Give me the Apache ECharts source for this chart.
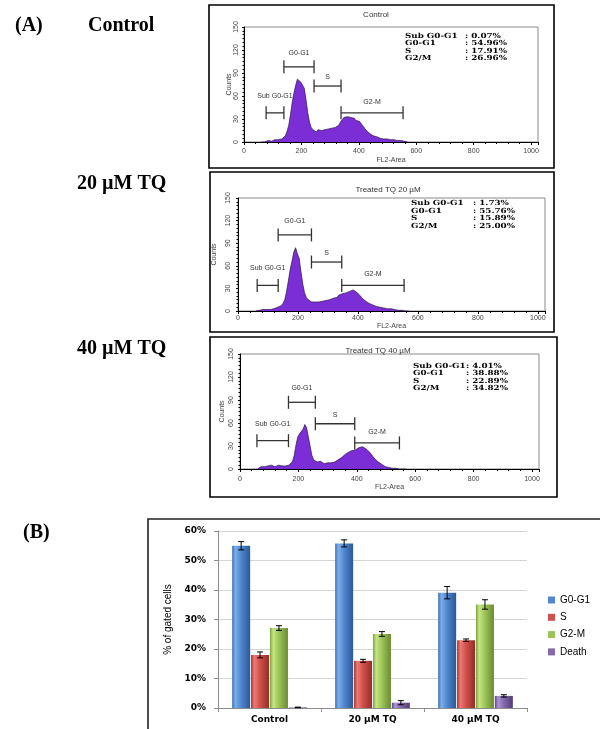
<!DOCTYPE html>
<html><head><meta charset="utf-8">
<script src="https://cdn.jsdelivr.net/npm/echarts@6.0.0/dist/echarts.min.js"></script>
<style>html,body{margin:0;padding:0;background:#fff}#c{width:600px;height:729px}</style>
</head><body><div id="c"></div>
<script>
// ---------------- DATA ----------------
const binStart = 60, binWidth = 6;
const countsControl = [0,0,0,1,2,2,1,2,3,2,3,2,4,3,8,14,22,36,52,64,74,82,80,78,76,70,55,38,26,19,
  16,15,13,16,14,15,13,16,14,17,15,18,16,19,18,22,26,29,32,30,33,31,32,30,31,28,29,27,25,21,
  18,15,13,11,10,8,7,7,6,5,5,4,5,4,4,3,4,3,3,2,3,2,2,1,0,0];
const countsTQ20 = [0,0,1,2,2,3,2,3,2,4,3,3,5,4,7,10,15,26,40,55,66,78,84,76,70,52,36,24,18,15,
  13,12,11,12,10,12,11,13,12,14,13,15,14,17,19,18,21,20,23,22,24,23,26,25,28,27,25,23,20,17,
  15,13,11,10,9,8,7,6,6,5,5,4,4,3,4,3,2,2,2,1,2,1,1,0,0,0];
const countsTQ40 = [0,2,3,4,3,5,4,3,5,4,3,4,5,3,4,5,4,6,5,7,10,18,32,42,46,48,52,58,54,42,
  30,18,12,10,9,8,10,8,7,9,8,9,8,10,9,11,12,14,15,17,19,20,22,23,24,26,25,27,28,27,
  29,28,26,25,22,19,16,13,11,9,7,6,4,3,3,2,2,1,1,1,0,0,0,0,0,0];

const histTitles = ['Control', 'Treated TQ 20 µM', 'Treated TQ 40 µM'];
const gateNames = ['Sub G0-G1', 'G0-G1', 'S', 'G2-M'];
// [start channel, end channel, count level]
const gatesControl = [[77,139,38],[139,244,98],[244,338,73],[338,554,38]];
const gatesTQ20    = [[64,134,34],[134,245,101],[245,346,65],[346,554,34]];
const gatesTQ40    = [[58,166,37],[166,258,87],[258,393,59],[393,546,34]];

const statNames = ['Sub G0-G1', 'G0-G1', 'S', 'G2/M'];
const statsControl = ['0.07%', '54.96%', '17.91%', '26.96%'];
const statsTQ20    = ['1.73%', '55.76%', '15.89%', '25.00%'];
const statsTQ40    = ['4.01%', '38.88%', '22.89%', '34.82%'];

const panelLabels = ['(A)', 'Control', '20 µM TQ', '40 µM TQ', '(B)'];

const categories = ['Control', '20 µM TQ', '40 µM TQ'];
const seriesNames = ['G0-G1', 'S', 'G2-M', 'Death'];
const g0g1  = [55.0, 55.8, 39.1];
const sPh   = [18.0, 16.0, 23.0];
const g2m   = [27.1, 25.1, 35.1];
const death = [0.2, 1.8, 4.1];
const errG0g1  = [1.4, 1.2, 2.1];
const errS     = [1.0, 0.5, 0.4];
const errG2m   = [0.8, 0.8, 1.6];
const errDeath = [0.1, 0.7, 0.4];

// ---------------- LAYOUT / STYLE ----------------
const histCounts = [countsControl, countsTQ20, countsTQ40];
const histGates = [gatesControl, gatesTQ20, gatesTQ40];
const histStats = [statsControl, statsTQ20, statsTQ40];
const histLayout = [
  {grid:{left:244,top:27,width:294,height:115}, frame:[209,5,345,163], title:[376,15], statX:[405,465], statY:36, xm:6, xg:15, ym:4, yg:11},
  {grid:{left:238,top:198,width:307,height:113}, frame:[210,172,344,160], title:[388,190], statX:[411,473], statY:203.5, xm:4, xg:12, ym:6, yg:15},
  {grid:{left:240,top:354,width:299,height:115}, frame:[210,337,347,160], title:[378,351], statX:[413,466], statY:366, xm:7, xg:15, ym:5, yg:14}
];
const gateLabelOffset = [17, 14, 9, 11];
const barLayout = {grid:{left:218,top:531,width:309,height:177}, frame:[148,519,460,220]};
const barWidth = 18, barGapPct = 0.05;
const barStep = barWidth * (1 + barGapPct);

function grad(c0, c1, c2, c3) {
  return new echarts.graphic.LinearGradient(0, 0, 1, 0, [
    {offset:0, color:c0},{offset:0.18, color:c1},{offset:0.5, color:c2},{offset:1, color:c3}]);
}
const barColors = [
  grad('#3f70b3', '#7aaeea', '#4f86cf', '#2b5895'),
  grad('#a9332f', '#ee7a75', '#d0504b', '#962c29'),
  grad('#7ea13e', '#c6e684', '#9cc458', '#6b8a31'),
  grad('#5e4585', '#ad93d8', '#8468a8', '#523c76')
];
const legendColors = ['#4f86cf', '#d0504b', '#9cc458', '#8468a8'];

const grids = [], xAxes = [], yAxes = [], series = [], graphics = [];

histLayout.forEach((L, i) => {
  grids.push(Object.assign({show:true, borderColor:'#8a8a8a', borderWidth:1, backgroundColor:'transparent'}, L.grid));
  xAxes.push({
    gridIndex:i, type:'value', min:0, max:1024, interval:200,
    axisLine:{lineStyle:{color:'#000', width:1}},
    axisTick:{length:3, lineStyle:{color:'#000'}},
    minorTick:{show:true, splitNumber:5, length:2, lineStyle:{color:'#000'}},
    axisLabel:{fontSize:7, color:'#444', fontFamily:'Liberation Sans', margin:L.xm, showMaxLabel:false,
      formatter: v => String(v)},
    splitLine:{show:false}, minorSplitLine:{show:false},
    name:'FL2-Area', nameLocation:'middle', nameGap:L.xg,
    nameTextStyle:{fontSize:7, color:'#444', fontFamily:'Liberation Sans'}
  });
  yAxes.push({
    gridIndex:i, type:'value', min:0, max:150, interval:30,
    axisLine:{show:true, lineStyle:{color:'#000', width:1}},
    axisTick:{show:true, length:2, lineStyle:{color:'#000'}},
    minorTick:{show:true, splitNumber:6, length:1.5, lineStyle:{color:'#000'}},
    axisLabel:{rotate:90, fontSize:7, color:'#444', fontFamily:'Liberation Sans', margin:L.ym},
    splitLine:{show:false},
    name:'Counts', nameLocation:'middle', nameGap:L.yg, nameRotate:90,
    nameTextStyle:{fontSize:7, color:'#444', fontFamily:'Liberation Sans'}
  });
  series.push({
    type:'line', xAxisIndex:i, yAxisIndex:i, showSymbol:false, silent:true,
    data: histCounts[i].map((c, k) => [binStart + k * binWidth, c]),
    lineStyle:{color:'#2a1745', width:0.7},
    areaStyle:{color:'#7b2ed6', opacity:1}
  });
  series.push({
    type:'custom', xAxisIndex:i, yAxisIndex:i, silent:true, z:5,
    data: histGates[i],
    renderItem: function(params, api) {
      const a = api.coord([api.value(0), api.value(2)]);
      const b = api.coord([api.value(1), api.value(2)]);
      const st = {stroke:'#333', lineWidth:1.3};
      const di = params.dataIndex;
      return {type:'group', children:[
        {type:'line', shape:{x1:a[0], y1:a[1], x2:b[0], y2:b[1]}, style:st},
        {type:'line', shape:{x1:a[0], y1:a[1]-6.5, x2:a[0], y2:a[1]+6.5}, style:st},
        {type:'line', shape:{x1:b[0], y1:b[1]-6.5, x2:b[0], y2:b[1]+6.5}, style:st},
        {type:'text', x:(a[0]+b[0])/2, y:a[1]-gateLabelOffset[di],
          style:{text:gateNames[di], fill:'#333', font:'7px "Liberation Sans"', textAlign:'center', textVerticalAlign:'middle'}}
      ]};
    }
  });
  graphics.push({type:'rect', silent:true, shape:{x:L.frame[0], y:L.frame[1], width:L.frame[2], height:L.frame[3]},
    style:{fill:'none', stroke:'#000', lineWidth:1.6}});
  graphics.push({type:'text', silent:true, x:L.title[0], y:L.title[1],
    style:{text:histTitles[i], fill:'#333', font:'8px "Liberation Sans"', textAlign:'center', textVerticalAlign:'middle'}});
  statNames.forEach((n, r) => {
    const yy = L.statY + r * 7.4;
    graphics.push({type:'text', silent:true, x:L.statX[0], y:yy, scaleX:1.25,
      style:{text:n, fill:'#000', font:'bold 7px "DejaVu Serif"', textAlign:'left', textVerticalAlign:'middle'}});
    graphics.push({type:'text', silent:true, x:L.statX[1], y:yy, scaleX:1.25,
      style:{text:': ' + histStats[i][r], fill:'#000', font:'bold 7px "DejaVu Serif"', textAlign:'left', textVerticalAlign:'middle'}});
  });
});

// bar chart
grids.push(barLayout.grid);
xAxes.push({
  gridIndex:3, type:'category', data:categories,
  axisLine:{lineStyle:{color:'#8c8c8c'}},
  axisTick:{show:true, length:4, lineStyle:{color:'#8c8c8c'}},
  axisLabel:{fontSize:9, fontWeight:'bold', color:'#000', fontFamily:'DejaVu Sans', margin:7}
});
yAxes.push({
  gridIndex:3, type:'value', min:0, max:60, interval:10,
  axisLine:{show:true, lineStyle:{color:'#8c8c8c'}},
  axisTick:{show:true, length:4, lineStyle:{color:'#8c8c8c'}},
  splitLine:{lineStyle:{color:'#d4d4d4'}},
  axisLabel:{formatter:'{value}%', fontSize:9, fontWeight:'bold', color:'#000', fontFamily:'DejaVu Sans', margin:12},
  name:'% of gated cells', nameLocation:'middle', nameGap:40, nameRotate:90,
  nameTextStyle:{fontSize:10, color:'#000', fontFamily:'Liberation Sans'}
});
const barVals = [g0g1, sPh, g2m, death];
const barErrs = [errG0g1, errS, errG2m, errDeath];
seriesNames.forEach((n, s) => {
  series.push({
    name:n, type:'bar', xAxisIndex:3, yAxisIndex:3, barWidth:barWidth, barGap:(barGapPct*100)+'%',
    data: barVals[s], itemStyle:{color:barColors[s]}, silent:true
  });
});
const errData = [];
barVals.forEach((vals, s) => vals.forEach((v, c) => errData.push([c, v, barErrs[s][c], s])));
series.push({
  type:'custom', xAxisIndex:3, yAxisIndex:3, silent:true, z:10, data:errData,
  renderItem: function(params, api) {
    const c = api.value(0), v = api.value(1), e = api.value(2), s = api.value(3);
    const off = (s - 1.5) * barStep;
    const t = api.coord([c, v + e]), b = api.coord([c, v - e]);
    const x = t[0] + off;
    const st = {stroke:'#000', lineWidth:1};
    return {type:'group', children:[
      {type:'line', shape:{x1:x, y1:t[1], x2:x, y2:b[1]}, style:st},
      {type:'line', shape:{x1:x-3, y1:t[1], x2:x+3, y2:t[1]}, style:st},
      {type:'line', shape:{x1:x-3, y1:b[1], x2:x+3, y2:b[1]}, style:st}
    ]};
  }
});
graphics.push({type:'rect', silent:true, shape:{x:barLayout.frame[0], y:barLayout.frame[1], width:barLayout.frame[2], height:barLayout.frame[3]},
  style:{fill:'none', stroke:'#222', lineWidth:1.6}});

// panel labels
const panelPos = [[15,26],[88,26],[77,184],[77,349],[23,533]];
panelLabels.forEach((t, k) => {
  graphics.push({type:'text', silent:true, x:panelPos[k][0], y:panelPos[k][1],
    style:{text:t, fill:'#000', font:'bold 20px "Liberation Serif"', textAlign:'left', textVerticalAlign:'middle'}});
});

const chart = echarts.init(document.getElementById('c'), null, {renderer:'canvas'});
chart.setOption({
  animation:false,
  backgroundColor:'#fff',
  grid:grids, xAxis:xAxes, yAxis:yAxes, series:series, graphic:graphics,
  legend:{
    data: seriesNames.map((n, s) => ({name:n, itemStyle:{color:legendColors[s]}})),
    orient:'vertical', left:543, top:590, itemWidth:7, itemHeight:7, itemGap:7.3, icon:'rect',
    selectedMode:false,
    textStyle:{fontSize:10, color:'#000', fontFamily:'Liberation Sans'}
  }
});
</script></body></html>
